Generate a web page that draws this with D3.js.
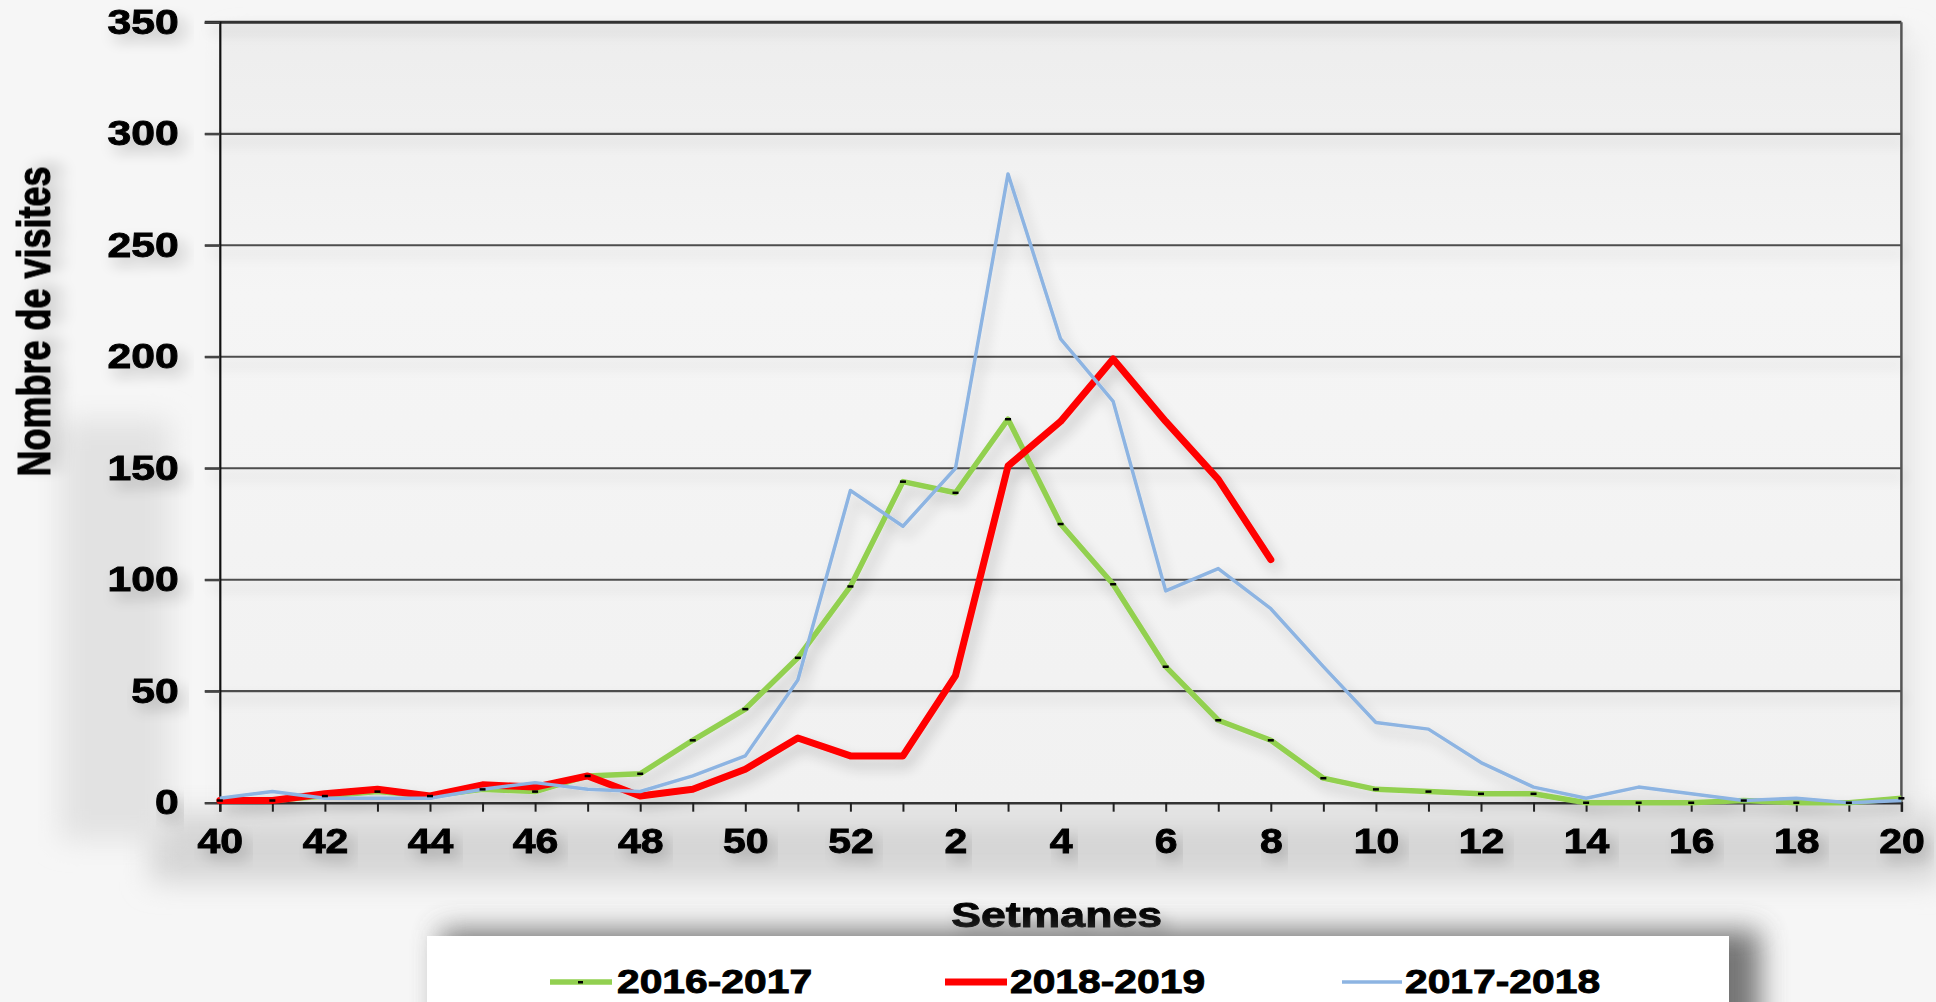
<!DOCTYPE html>
<html>
<head>
<meta charset="utf-8">
<script src="https://cdn.jsdelivr.net/npm/d3@7"></script>
<style>
  body { margin: 0; background: #f4f4f4; }
  svg { display: block; font-family: "Liberation Sans", Arial, sans-serif; font-weight: bold; }
</style>
</head>
<body>
<div id="chart"></div>
<script>
// weeks of the season (week 40 to week 20 of next year)
var weeks = [40,41,42,43,44,45,46,47,48,49,50,51,52,1,2,3,4,5,6,7,8,9,10,11,12,13,14,15,16,17,18,19,20];

var s1617 = [1,1,3,5,3,6,5,12,13,28,42,65,97,144,139,172,125,98,61,37,28,11,6,5,4,4,0,0,0,1,0,0,2];
var s1819 = [1,1,4,6,3,8,7,12,3,6,15,29,21,21,57,151,171,199,171,145,109];
var s1718 = [2,5,2,2,2,6,9,6,5,12,21,55,140,124,150,282,208,180,95,105,87,61,36,33,18,7,2,7,4,1,2,0,1];

var seriesNames = ["2016-2017", "2018-2019", "2017-2018"];
var yTicks = [0,50,100,150,200,250,300,350];

var W = 1936, H = 1002;
var margin = {top: 22.3, right: 34.6, bottom: 199.3, left: 219.8},
    width = W - margin.left - margin.right,
    height = H - margin.top - margin.bottom;
var sx = 1.22; // the source picture is stretched sideways, so are its letters

var svg = d3.select("#chart").append("svg")
    .attr("width", W)
    .attr("height", H);

var defs = svg.append("defs");

var soft = defs.append("filter").attr("id", "soft")
    .attr("x", "-20%").attr("y", "-20%").attr("width", "140%").attr("height", "160%");
soft.append("feGaussianBlur").attr("in", "SourceAlpha").attr("stdDeviation", 7).attr("result", "b");
soft.append("feOffset").attr("in", "b").attr("dx", 5).attr("dy", 8).attr("result", "o");
soft.append("feComponentTransfer").attr("in", "o").attr("result", "t")
  .append("feFuncA").attr("type", "linear").attr("slope", 0.22);
var m = soft.append("feMerge");
m.append("feMergeNode").attr("in", "t");
m.append("feMergeNode").attr("in", "SourceGraphic");

var blur = defs.append("filter").attr("id", "blur")
    .attr("x", "-20%").attr("y", "-50%").attr("width", "140%").attr("height", "200%");
blur.append("feGaussianBlur").attr("stdDeviation", 14);

var plotGrad = defs.append("linearGradient").attr("id", "plotGrad")
    .attr("x1", 0).attr("y1", 0).attr("x2", 0).attr("y2", 1);
plotGrad.append("stop").attr("offset", "0%").attr("stop-color", "#ededed");
plotGrad.append("stop").attr("offset", "35%").attr("stop-color", "#f5f5f5");
plotGrad.append("stop").attr("offset", "100%").attr("stop-color", "#f1f1f1");

// background shading
svg.append("rect").attr("width", W).attr("height", H).attr("fill", "#f6f6f6");
svg.append("rect")
    .attr("x", 150).attr("y", 812).attr("width", 1790).attr("height", 70)
    .attr("fill", "#d6d6d6").attr("filter", "url(#blur)");
svg.append("rect")
    .attr("x", 60).attr("y", 420).attr("width", 110).attr("height", 420)
    .attr("fill", "#e2e2e2").attr("filter", "url(#blur)");
svg.append("rect")
    .attr("x", 230).attr("y", 40).attr("width", width).attr("height", height)
    .attr("fill", "#e2e2e2").attr("filter", "url(#blur)");

var g = svg.append("g")
    .attr("transform", "translate(" + margin.left + "," + margin.top + ")");

g.append("rect").attr("width", width).attr("height", height).attr("fill", "url(#plotGrad)");

var x = d3.scaleLinear().domain([0, weeks.length - 1]).range([0, width]);
var y = d3.scaleLinear().domain([0, 350]).range([height, 0]);

// grid lines
g.append("g").attr("filter", "url(#soft)")
  .selectAll("line").data(yTicks.slice(1)).enter().append("line")
    .attr("x1", -15).attr("x2", width)
    .attr("y1", function(d) { return y(d); })
    .attr("y2", function(d) { return y(d); })
    .attr("stroke", function(d) { return d == 350 ? "#333" : "#4d4d4d"; })
    .attr("stroke-width", function(d) { return d == 350 ? 3 : 2.2; });

// right border
g.append("line")
    .attr("x1", width).attr("x2", width).attr("y1", 0).attr("y2", height)
    .attr("stroke", "#555").attr("stroke-width", 2.5);

function heavy(sel, size) {
  sel.attr("fill", "#000")
     .attr("stroke", "#000")
     .attr("stroke-width", 0.9)
     .style("font-size", size + "px")
     .style("font-weight", "bold")
     .style("font-family", "'Liberation Sans', Arial, sans-serif")
     .attr("filter", "url(#soft)");
}

// Y axis
var yAxis = g.append("g")
    .call(d3.axisLeft(y).tickValues(yTicks).tickSize(15).tickFormat(d3.format("d")));
yAxis.select(".domain").attr("stroke", "#111").attr("stroke-width", 2.2);
yAxis.selectAll(".tick line").attr("stroke", "#444").attr("stroke-width", 2.2);
yAxis.selectAll("text")
    .attr("x", -41 / sx)
    .attr("transform", "scale(" + sx + ",1)")
    .call(heavy, 35);

// X axis
var xAxis = g.append("g")
    .attr("transform", "translate(0," + height + ")")
    .call(d3.axisBottom(x).tickValues(d3.range(weeks.length)).tickSize(9).tickPadding(16)
      .tickFormat(function(i) { return i % 2 == 0 ? weeks[i] : ""; }));
xAxis.select(".domain").attr("stroke", "#333").attr("stroke-width", 2.5);
xAxis.selectAll(".tick line").attr("stroke", "#222").attr("stroke-width", 2);
xAxis.selectAll("text")
    .attr("transform", "scale(1.17,1)")
    .call(heavy, 35);

// series lines
var line = d3.line()
    .x(function(d, i) { return x(i); })
    .y(function(d) { return y(d); });

var lines = g.append("g").attr("filter", "url(#soft)");

lines.append("path").datum(s1617)
    .attr("fill", "none").attr("stroke", "#92d050").attr("stroke-width", 5.5)
    .attr("stroke-linejoin", "round").attr("d", line);

lines.append("path").datum(s1819)
    .attr("fill", "none").attr("stroke", "#ff0000").attr("stroke-width", 7)
    .attr("stroke-linejoin", "round").attr("stroke-linecap", "round").attr("d", line);

lines.append("path").datum(s1718)
    .attr("fill", "none").attr("stroke", "#8db4e2").attr("stroke-width", 3.5)
    .attr("stroke-linejoin", "round").attr("d", line);

// small black dash markers of the green series
g.append("g").selectAll("rect").data(s1617).enter().append("rect")
    .attr("x", function(d, i) { return x(i) - 3; })
    .attr("y", function(d) { return y(d) - 1.2; })
    .attr("width", 6).attr("height", 2.5)
    .attr("fill", "#000");

// axis titles
svg.append("text")
    .attr("transform", "translate(" + (margin.left + width / 2 - 4) + ",927) scale(1.24,1)")
    .attr("text-anchor", "middle")
    .call(heavy, 36)
    .text("Setmanes");

svg.append("text")
    .attr("transform", "translate(50,321.5) scale(1.3,1) rotate(-90)")
    .attr("text-anchor", "middle")
    .call(heavy, 36)
    .text("Nombre de visites");

// legend
svg.append("rect")
    .attr("x", 440).attr("y", 930).attr("width", 1320).attr("height", 120)
    .attr("fill", "#555").attr("opacity", 0.8).attr("filter", "url(#blur)");
svg.append("rect")
    .attr("x", 427).attr("y", 936).attr("width", 1302).attr("height", 80)
    .attr("fill", "#ffffff");

var legendItems = [
  {name: seriesNames[0], color: "#92d050", w: 5.5, x0: 550, x1: 612, tx: 617, marker: true},
  {name: seriesNames[1], color: "#ff0000", w: 7, x0: 945, x1: 1007, tx: 1010, marker: false},
  {name: seriesNames[2], color: "#8db4e2", w: 3.5, x0: 1342, x1: 1402, tx: 1405, marker: false}
];

var leg = svg.append("g").selectAll("g").data(legendItems).enter().append("g");
leg.append("line")
    .attr("x1", function(d) { return d.x0; }).attr("x2", function(d) { return d.x1; })
    .attr("y1", 982).attr("y2", 982)
    .attr("stroke", function(d) { return d.color; })
    .attr("stroke-width", function(d) { return d.w; });
leg.filter(function(d) { return d.marker; }).append("rect")
    .attr("x", function(d) { return (d.x0 + d.x1) / 2 - 3; })
    .attr("y", 981).attr("width", 5).attr("height", 2.5).attr("fill", "#000");
leg.append("text")
    .attr("transform", function(d) { return "translate(" + d.tx + ",993) scale(1.2,1)"; })
    .call(heavy, 34)
    .attr("filter", null)
    .text(function(d) { return d.name; });
</script>
</body>
</html>
